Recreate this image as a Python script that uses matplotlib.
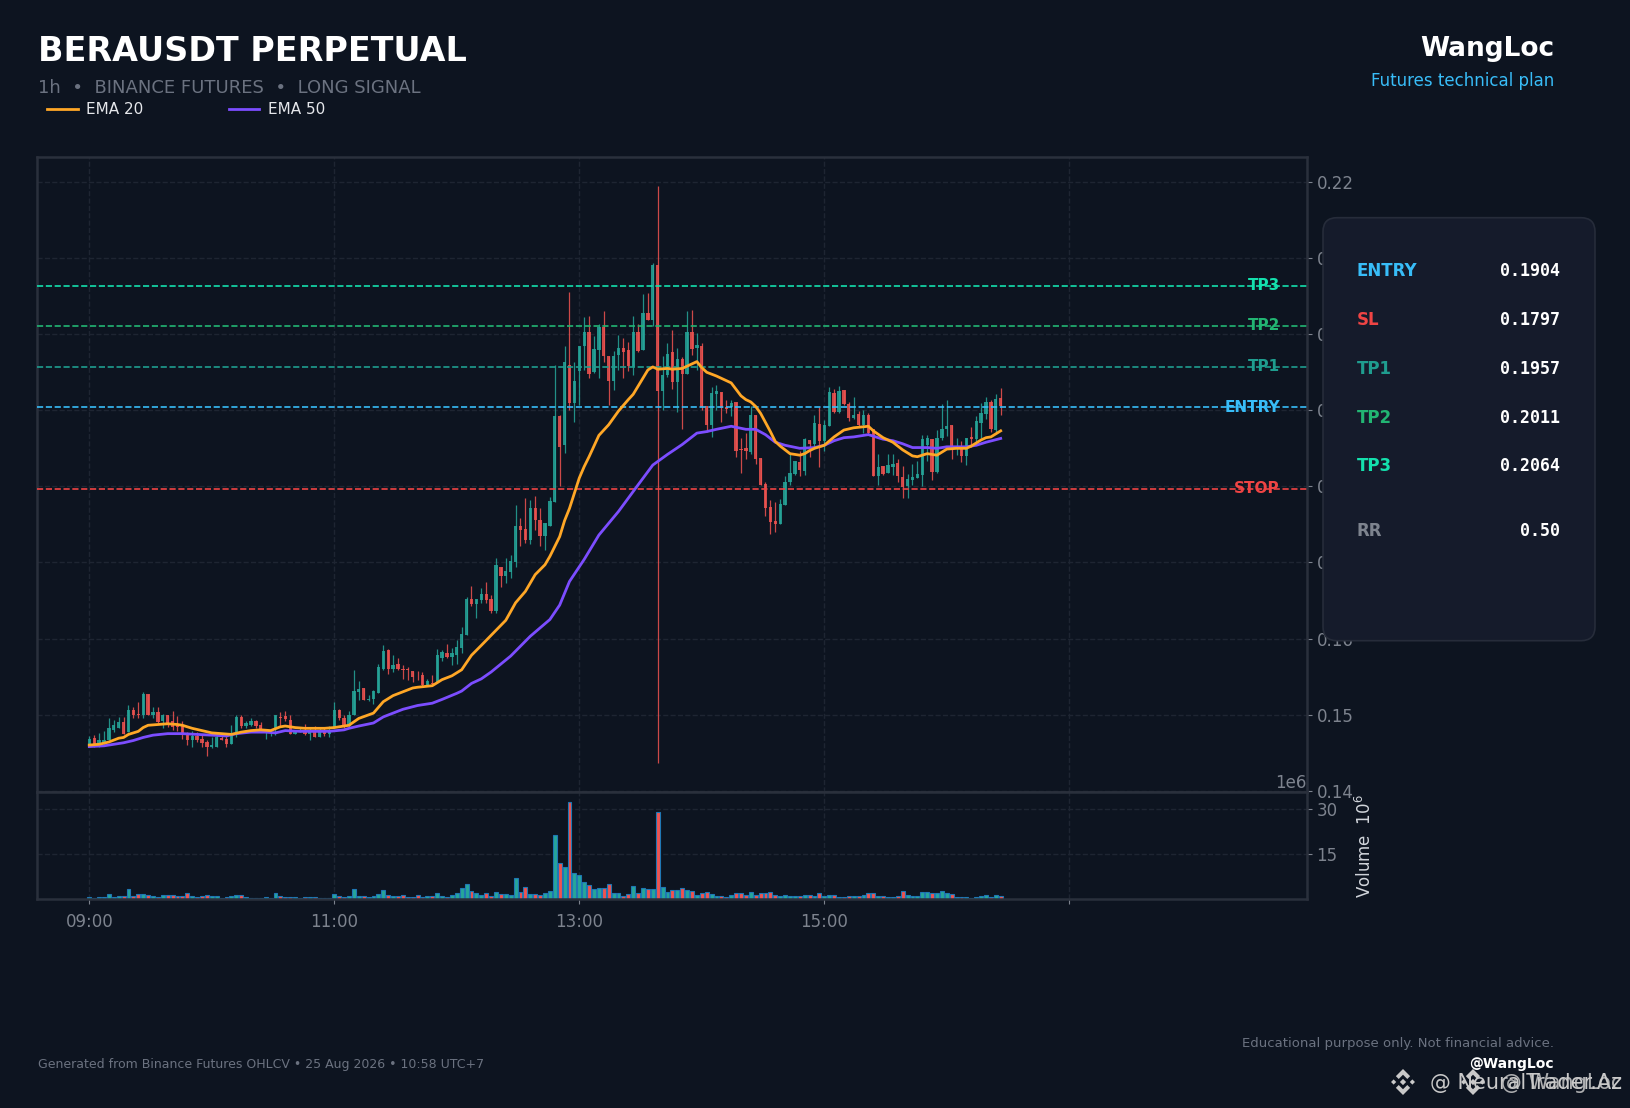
import numpy as np
import matplotlib
matplotlib.use("Agg")
import matplotlib.pyplot as plt
from matplotlib.patches import FancyBboxPatch, Polygon
from matplotlib.transforms import IdentityTransform
from matplotlib.ticker import ScalarFormatter

# ---- data (prices in 1e-4 USDT) ----
opens_e4 = [1460,1469,1461,1462,1466,1480,1483,1490,1477,1506,
1501,1499,1527,1500,1503,1491,1499,1491,1486,1486,
1473,1466,1472,1468,1464,1457,1458,1469,1468,1461,
1477,1497,1485,1486,1491,1487,1477,1478,1482,1497,
1498,1493,1474,1479,1479,1474,1479,1470,1477,1474,
1484,1506,1496,1485,1500,1530,1535,1519,1520,1529,
1560,1585,1560,1566,1560,1560,1557,1550,1552,1539,
1541,1543,1575,1581,1576,1579,1587,1605,1652,1645,
1651,1659,1652,1636,1694,1682,1688,1700,1748,1744,
1730,1772,1756,1735,1748,1780,1893,1854,1960,1910,
1951,1984,2003,1950,1979,2010,1972,1939,1973,1982,
1979,1957,2003,1979,2028,2019,2091,1925,1946,1977,
1937,1967,1948,2003,1982,1985,1906,1881,1922,1924,
1904,1904,1911,1849,1850,1845,1894,1837,1803,1773,
1754,1751,1776,1806,1816,1832,1820,1861,1856,1882,
1859,1879,1923,1898,1927,1908,1890,1895,1881,1894,
1875,1814,1827,1818,1825,1831,1812,1800,1808,1811,
1815,1854,1862,1819,1864,1875,1881,1851,1851,1840,
1865,1862,1883,1895,1911,1874,1916]
closes_e4 = [1468,1462,1466,1467,1483,1486,1490,1475,1506,1499,
1499,1527,1500,1503,1490,1499,1489,1484,1484,1473,
1466,1472,1466,1463,1457,1460,1471,1467,1462,1472,
1497,1485,1489,1491,1485,1479,1479,1479,1499,1496,
1494,1475,1479,1480,1474,1477,1470,1477,1474,1477,
1506,1495,1485,1500,1531,1534,1519,1521,1531,1563,
1583,1560,1565,1560,1558,1558,1550,1549,1539,1544,
1540,1578,1582,1576,1581,1589,1606,1652,1646,1652,
1659,1651,1636,1696,1682,1689,1702,1748,1743,1730,
1772,1756,1735,1752,1781,1892,1852,1964,1910,1939,
1985,2003,1948,1981,2010,1972,1939,1972,1982,1977,
1958,2003,1978,2028,2019,2091,1925,1946,1974,1937,
1967,1948,2003,1981,1986,1904,1881,1923,1925,1903,
1902,1910,1847,1848,1846,1894,1836,1802,1772,1753,
1751,1777,1806,1817,1833,1821,1862,1856,1883,1860,
1881,1924,1898,1925,1908,1890,1894,1881,1894,1870,
1814,1826,1816,1828,1830,1813,1799,1810,1812,1816,
1862,1864,1819,1864,1876,1879,1848,1853,1840,1864,
1862,1886,1896,1911,1875,1915,1905]
highs_e4 = [1472,1473,1476,1479,1496,1493,1497,1497,1513,1510,
1517,1530,1527,1510,1510,1501,1499,1505,1498,1492,
1477,1478,1477,1473,1466,1471,1475,1473,1473,1486,
1500,1499,1492,1496,1493,1490,1479,1480,1499,1503,
1505,1499,1480,1484,1488,1482,1485,1484,1482,1485,
1517,1508,1499,1505,1559,1544,1535,1526,1532,1567,
1592,1586,1578,1575,1565,1562,1557,1557,1556,1547,
1552,1586,1585,1593,1588,1598,1615,1655,1669,1652,
1666,1674,1657,1706,1694,1706,1710,1775,1759,1785,
1782,1787,1772,1752,1786,1960,1894,1984,2056,1963,
1985,2022,2024,1998,2014,2030,1972,1978,1999,1995,
1990,2024,2014,2053,2054,2094,2195,1972,1988,2005,
1982,1970,2030,2032,2001,1989,1906,1930,1933,1924,
1914,1914,1911,1864,1870,1905,1894,1837,1806,1782,
1779,1783,1814,1843,1833,1847,1863,1861,1894,1904,
1887,1930,1928,1932,1927,1911,1917,1899,1900,1897,
1875,1843,1827,1842,1842,1836,1827,1816,1830,1833,
1868,1868,1862,1874,1908,1913,1881,1863,1859,1864,
1878,1893,1909,1918,1913,1922,1929]
lows_e4 = [1457,1457,1457,1461,1466,1477,1482,1475,1477,1496,
1496,1496,1499,1495,1489,1482,1484,1480,1479,1468,
1460,1457,1464,1457,1446,1456,1457,1466,1458,1461,
1470,1483,1483,1485,1483,1477,1468,1472,1473,1485,
1492,1474,1474,1477,1473,1467,1470,1470,1472,1471,
1482,1493,1483,1484,1499,1519,1519,1518,1514,1528,
1559,1554,1556,1558,1547,1546,1543,1546,1536,1539,
1539,1542,1571,1574,1565,1567,1581,1605,1643,1627,
1647,1647,1634,1634,1668,1673,1680,1694,1721,1725,
1724,1742,1722,1716,1748,1779,1801,1844,1900,1885,
1907,1953,1943,1949,1943,1964,1907,1927,1953,1942,
1951,1946,1977,1979,2019,2011,1437,1900,1944,1928,
1898,1876,1948,1973,1953,1900,1872,1865,1900,1884,
1897,1893,1839,1817,1836,1843,1830,1802,1761,1738,
1740,1751,1776,1802,1815,1814,1815,1839,1852,1826,
1846,1879,1896,1896,1907,1886,1888,1879,1870,1868,
1814,1802,1815,1817,1815,1806,1785,1785,1802,1811,
1800,1833,1809,1818,1861,1866,1836,1841,1832,1828,
1852,1854,1864,1889,1872,1872,1894]
volumes_m = [.5,.3,.6,.6,1.6,.6,1,1,3.3,.9,
1.7,1.7,1.3,.9,.5,1.3,1.2,1.2,.9,.9,
2,1,.5,1,1.3,.9,.9,.3,.6,1,
1.3,1.3,.6,.3,.3,.3,.6,.3,2,1,
.6,.6,.6,.3,.6,.6,.6,.3,.3,.3,
1.7,1,.6,1,3.3,1,1,.6,1,1.7,
3,1.3,1,1,1.3,.6,.6,1.3,.6,1,
1,2,1,.6,1.3,2,3.7,5,2.7,2,
1.3,2,1,2.3,1.7,1.7,1.3,7,2.3,4,
1.7,1.7,1.3,2,2.7,21.3,12,10.7,32.2,8.7,
8,5.7,4.7,3.3,3.7,3.7,5,2,2,1,
1.7,4.3,2,3.7,3.3,3.3,29,4,2.3,3,
3,3.7,3,2.7,1.3,2,2.3,1.7,1,1,
.6,1.3,2,2,1.3,2.3,1.3,2,2,2.3,
1.3,1,1.3,1,1,1,1.3,1.3,1,2,
1,1.3,1.3,.6,.6,1,1,1,1.3,2,
2,1,1,.6,.6,1,2.7,1.3,1,1,
2.3,2.3,2,2,2.7,2,1.7,.6,.6,.6,
.3,.6,1,1.3,.6,1.3,1]

ema20_i = [0,2,4,6,7,8,10,11,12,14,16,18,19,21,23,25,27,29,31,33,35,37,39,40,42,44,46,48,50,52,53,55,58,60,62,64,66,67,70,72,74,76,78,80,
85,87,89,91,93,94,95,96,97,98,99,100,101,102,104,106,108,
110,111,114,115,116,118,119,121,124,125,126,128,131,133,134,135,136,137,139,140,141,142,143,145,146,147,148,150,152,154,156,159,160,162,164,166,168,169,171,173,175,177,179,180,182,183,184,186]
ema20_e4 = [1460,1461,1464,1469,1470,1474,1478,1483,1486,1487,1488,1487,1486,1482,1479,1476,1475,1474,1477,1479,1480,1479,1484,1485,1483,1482,1482,1482,1483,1485,1486,1495,1502,1517,1525,1530,1535,1536,1538,1546,1551,1559,1578,1591,
1624,1647,1662,1684,1697,1708,1721,1734,1755,1771,1791,1811,1826,1839,1867,1881,1899,
1914,1921,1953,1957,1954,1955,1954,1955,1964,1956,1950,1945,1936,1919,1914,1911,1905,1896,1872,1859,1853,1848,1843,1841,1843,1847,1850,1854,1865,1874,1877,1879,1873,1864,1858,1848,1840,1839,1843,1841,1849,1850,1850,1853,1861,1864,1865,1873]
ema50_i = [0,3,7,9,11,13,16,19,22,25,28,30,33,36,38,40,43,46,49,52,53,55,58,60,64,67,70,72,75,76,78,80,82,86,90,94,96,98,101,104,108,112,115,118,121,123,
124,126,128,131,134,136,138,140,142,145,148,150,152,154,156,159,162,164,166,168,171,173,175,179,181,183,186]
ema50_e4 = [1458,1459,1463,1466,1470,1473,1475,1475,1474,1473,1472,1475,1477,1477,1476,1479,1478,1478,1478,1480,1482,1485,1489,1497,1507,1512,1515,1520,1528,1531,1541,1547,1556,1577,1603,1625,1644,1675,1704,1736,1767,1802,1828,1842,1855,1865,
1870,1872,1875,1879,1875,1875,1868,1858,1854,1850,1851,1854,1860,1864,1865,1868,1862,1860,1856,1851,1851,1850,1852,1852,1854,1858,1863]

level_names = ["ENTRY", "SL", "TP1", "TP2", "TP3"]
level_tags = ["ENTRY", "STOP", "TP1", "TP2", "TP3"]
level_values = [0.1904, 0.1797, 0.1957, 0.2011, 0.2064]
level_colors = ["#38bdf8", "#ef4444", "#1f9d8f", "#22b573", "#14e0ad"]
x_ticks = [0, 50, 100, 150, 200]
x_labels = ["09:00", "11:00", "13:00", "15:00", ""]
price_ticks = [0.14, 0.15, 0.16, 0.17, 0.18, 0.19, 0.20, 0.21, 0.22]
vol_ticks = [15e6, 30e6]

# ---- style ----
W, H = 1631, 1108
BG = "#0d1420"
GRID = "#1e2532"
SPINE = "#2a303c"
GREY = "#7d838e"
UP = "#26a69a"
DOWN = "#ef5350"

fig = plt.figure(figsize=(W / 100, H / 100), dpi=100, facecolor=BG)

def box(l, t, r, b):
    return [l / W, 1 - b / H, (r - l) / W, (b - t) / H]

L, R = 36.7, 1306.7
ax = fig.add_axes(box(L, 156.7, R, 792))
axv = fig.add_axes(box(L, 792, R, 898.7), sharex=ax)

o = np.array(opens_e4) / 1e4
c = np.array(closes_e4) / 1e4
h = np.array(highs_e4) / 1e4
l = np.array(lows_e4) / 1e4
v = np.array(volumes_m) * 1e6
idx = np.arange(len(o))
cols = np.where(c >= o, UP, DOWN)

for a in (ax, axv):
    a.set_facecolor(BG)
    for s in a.spines.values():
        s.set_color(SPINE)
        s.set_linewidth(1.8)
    a.yaxis.tick_right()
    a.grid(True, color=GRID, linestyle="--", linewidth=1.0)
    a.set_axisbelow(True)
    a.tick_params(colors=GREY, labelsize=12, length=3.5, width=0.8)
    a.set_xticks(x_ticks)

ax.vlines(idx, l, h, colors=cols, linewidth=0.9, alpha=0.85, zorder=2)
ax.bar(idx, c - o, bottom=o, width=0.68, color=cols, alpha=0.85, linewidth=0, zorder=2.2)
for name, tag, val, col in zip(level_names, level_tags, level_values, level_colors):
    ax.axhline(val, color=col, linestyle="--", linewidth=1.2, zorder=3)
    ax.text(243, val, tag, color=col, fontsize=11, fontweight="bold", ha="right", va="center", zorder=4)
ln20, = ax.plot(ema20_i, np.array(ema20_e4) / 1e4, color="#ffa726", linewidth=2.0, zorder=5, label="EMA 20")
ln50, = ax.plot(ema50_i, np.array(ema50_e4) / 1e4, color="#7c4dff", linewidth=2.0, zorder=4.5, label="EMA 50")

ax.set_xlim(-10.73, 248.45)
ax.set_ylim(0.13983, 0.22333)
ax.set_yticks(price_ticks)
ax.set_yticklabels([f"{t:.2f}" for t in price_ticks])
ax.tick_params(axis="x", labelbottom=False, bottom=False)

axv.bar(idx, v, width=0.8, color=cols, edgecolor="#1f77b4", linewidth=0.8, zorder=2)
axv.set_ylim(0, 35.5e6)
axv.set_yticks(vol_ticks)
axv.yaxis.set_major_formatter(ScalarFormatter(useMathText=False))
axv.ticklabel_format(axis="y", style="sci", scilimits=(6, 6))
axv.yaxis.get_offset_text().set_color(GREY)
axv.yaxis.get_offset_text().set_fontsize(12)
axv.set_xticklabels(x_labels)
axv.tick_params(axis="x", pad=7)
axv.yaxis.set_label_position("right")
axv.set_ylabel("Volume  $10^6$", color="#d1d5db", fontsize=12)
axv.yaxis.set_label_coords((1355 - L) / (R - L), 0.49)

def T(x, y, s, **kw):
    kw.setdefault("va", "baseline")
    return fig.text(x / W, 1 - y / H, s, **kw)

T(38, 61, "BERAUSDT PERPETUAL", color="white", fontsize=24, fontweight="bold")
T(38, 93, "1h  •  BINANCE FUTURES  •  LONG SIGNAL", color="#6b7280", fontsize=13)
T(1554, 56, "WangLoc", color="white", fontsize=19, fontweight="bold", ha="right")
T(1554, 86, "Futures technical plan", color="#38bdf8", fontsize=12, ha="right")
fig.legend(handles=[ln20, ln50], loc="upper left", bbox_to_anchor=(47 / W, 1 - 102 / H), ncol=2, frameon=False,
           fontsize=11, labelcolor="#e5e7eb", borderpad=0, borderaxespad=0, handlelength=2.0,
           handletextpad=0.55, columnspacing=5.6)

# info panel
px = IdentityTransform()
fig.add_artist(FancyBboxPatch((1323, H - 640.7), 272, 423, boxstyle="round,pad=0,rounding_size=14",
                              facecolor="#151b2b", edgecolor="#262c3a", linewidth=1.2, transform=px, zorder=5))
rows = [level_names[i] for i in range(5)]
for k, (name, val, col) in enumerate(zip(level_names, level_values, level_colors)):
    y = 276.5 + 48.7 * k
    T(1357, y, name, color=col, fontsize=12, fontweight="bold", zorder=6)
    T(1560, y, f"{val:.4f}", color="white", fontsize=12, fontweight="bold", family="DejaVu Sans Mono", ha="right", zorder=6)
T(1357, 536.5, "RR", color="#7d838e", fontsize=12, fontweight="bold", zorder=6)
T(1560, 536.5, "0.50", color="white", fontsize=12, fontweight="bold", family="DejaVu Sans Mono", ha="right", zorder=6)

# footer
T(38, 1068, "Generated from Binance Futures OHLCV • 25 Aug 2026 • 10:58 UTC+7", color="#6b7280", fontsize=9)
T(1554, 1047, "Educational purpose only. Not financial advice.", color="#6b7280", fontsize=9.5, ha="right")
T(1554, 1068, "@WangLoc", color="white", fontsize=10, fontweight="bold", ha="right")

# watermark (two overlapping stamps)
def binance(cx, cy, s, col="#c9c9c9"):
    def diamond(dx, dy, r):
        return [(cx + dx - r, H - (cy + dy)), (cx + dx, H - (cy + dy - r)), (cx + dx + r, H - (cy + dy)), (cx + dx, H - (cy + dy + r))]
    for dx, dy, r in [(0, 0, s * .24), (-s * .72, 0, s * .2), (s * .72, 0, s * .2)]:
        fig.add_artist(Polygon(diamond(dx, dy, r), closed=True, facecolor=col, edgecolor="none", transform=px, zorder=6))
    for sign in (-1, 1):
        pts = [(cx, H - (cy + sign * s)), (cx - s * .55, H - (cy + sign * s * .45)), (cx - s * .33, H - (cy + sign * s * .23)),
               (cx, H - (cy + sign * s * .56)), (cx + s * .33, H - (cy + sign * s * .23)), (cx + s * .55, H - (cy + sign * s * .45))]
        fig.add_artist(Polygon(pts, closed=True, facecolor=col, edgecolor="none", transform=px, zorder=6))

binance(1403, 1082, 13)
binance(1473, 1082, 13)
T(1622, 1089, "@ NeuralTrader.Az", color="#c9c9c9", fontsize=15, ha="right", zorder=6)
T(1622, 1089, "@ WangLoc", color="#c9c9c9", fontsize=15, ha="right", zorder=6, alpha=0.85)

fig.savefig("out.png", dpi=100, facecolor=BG)
